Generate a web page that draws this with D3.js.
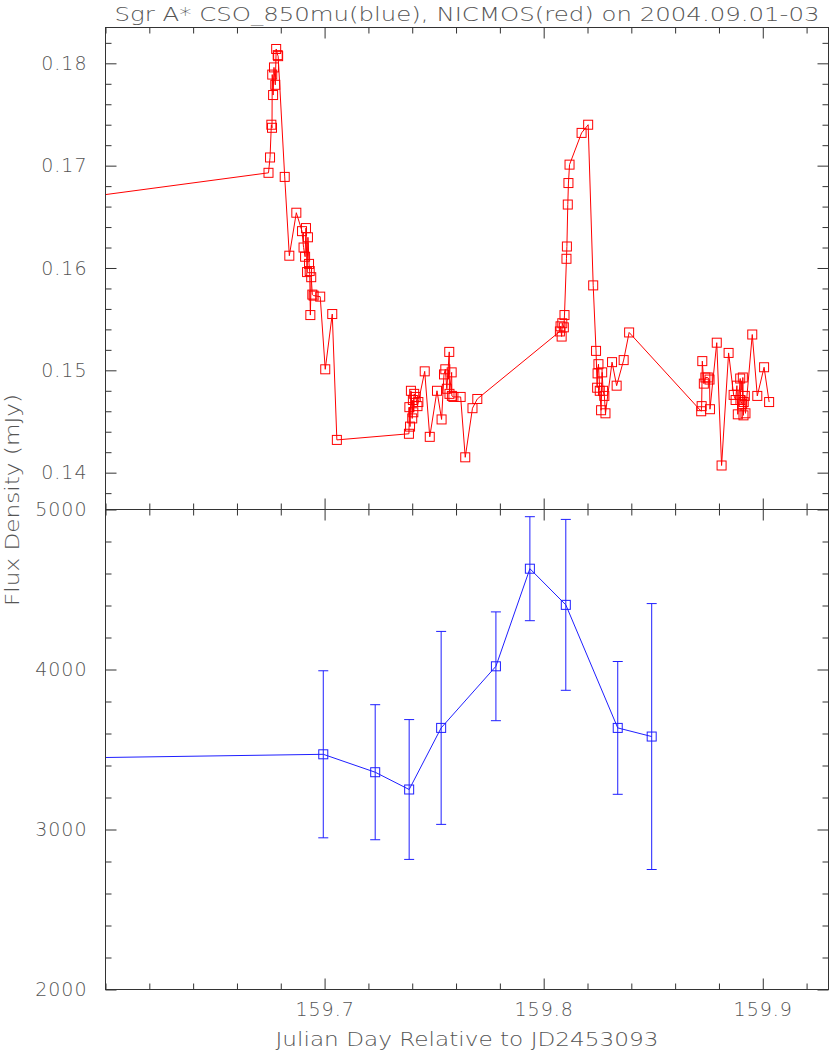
<!DOCTYPE html>
<html><head><meta charset="utf-8">
<script src="https://cdn.jsdelivr.net/npm/d3@7"></script>
<style>
body{margin:0;background:#fff}
svg{display:block}
text{font-family:"DejaVu Sans",sans-serif;fill:#555;font-weight:200}
</style>
</head><body>
<svg id="c" width="830" height="1053"></svg>
<script>
// ---- data ----
const titleText = "Sgr A* CSO_850mu(blue), NICMOS(red) on 2004.09.01-03";
const xLabelText = "Julian Day Relative to JD2453093";
const yLabelText = "Flux Density (mJy)";

const nirTime = [159.58,
 159.6744,159.6751,159.6757,159.6760,159.6761,159.6765,159.6769,159.6775,159.6779,159.6786,
 159.6788,159.6818,159.6839,159.6871,159.6897,159.6904,159.6911,159.6915,159.6920,159.6924,
 159.6929,159.6932,159.6935,159.6939,159.6944,159.6950,159.6980,159.7003,159.7035,159.7056,
 159.7385,159.7387,159.7390,159.7394,159.7400,159.7403,159.7405,159.7409,159.7416,159.7424,
 159.7428,159.7457,159.7480,159.7513,159.7534,159.7545,159.7551,159.7558,159.7569,159.7570,
 159.7580,159.7581,159.7588,159.7621,159.7642,159.7675,159.7697,159.8074,159.8077,159.8082,
 159.8085,159.8092,159.8095,159.8104,159.8106,159.8110,159.8113,159.8118,159.8173,159.8203,
 159.8226,159.8239,159.8244,159.8246,159.8250,159.8256,159.8262,159.8267,159.8271,159.8277,
 159.8282,159.8312,159.8333,159.8365,159.8390,159.8719,159.8721,159.8724,159.8731,159.8738,
 159.8749,159.8757,159.8759,159.8790,159.8812,159.8844,159.8867,159.8876,159.8882,159.8886,
 159.8897,159.8898,159.8906,159.8909,159.8912,159.8913,159.8918,159.8921,159.8952,159.8975,
 159.9006,159.9029];
const nirFlux = [0.1666,
 0.1693,0.1708,0.1740,0.1737,0.1789,0.1769,0.1796,0.1779,0.1814,0.1808,
 0.1807,0.1689,0.1612,0.1654,0.1636,0.1620,0.1611,0.1639,0.1596,0.1630,
 0.1604,0.1597,0.1554,0.1591,0.1574,0.1573,0.1572,0.1501,0.1555,0.1432,
 0.1438,0.1464,0.1445,0.1480,0.1453,0.1471,0.1459,0.1477,0.1474,0.1465,
 0.1469,0.1499,0.1435,0.1480,0.1452,0.1496,0.1501,0.1482,0.1518,0.1477,
 0.1498,0.1475,0.1474,0.1474,0.1415,0.1463,0.1472,0.1538,0.1543,0.1533,
 0.1546,0.1542,0.1554,0.1609,0.1621,0.1662,0.1683,0.1701,0.1732,0.1740,
 0.1583,0.1519,0.1483,0.1497,0.1506,0.1480,0.1461,0.1498,0.1480,0.1475,
 0.1458,0.1508,0.1485,0.1510,0.1537,0.1460,0.1465,0.1509,0.1487,0.1493,
 0.1493,0.1491,0.1462,0.1527,0.1407,0.1517,0.1476,0.1471,0.1485,0.1457,
 0.1492,0.1471,0.1467,0.1493,0.1456,0.1469,0.1475,0.1458,0.1535,0.1475,
 0.1503,0.1469];

const subTime = [159.58,159.6994,159.7231,159.7386,159.7532,159.7782,159.7937,159.8101,159.8338,159.8493];
const subFlux = [3446,3470,3358,3250,3635,4020,4630,4404,3635,3581];
const subErr  = [null,522,422,437,603,340,325,534,415,831];

const xMajorTicks = [159.7,159.8,159.9];
const nirMajorTicks = [0.14,0.15,0.16,0.17,0.18];
const subMajorTicks = [2000,3000,4000,5000];

// ---- layout ----
const L = 105.5, R = 828.5, T = 27.5, M = 509.5, B = 989.5;
const svg = d3.select("#c");

const x = d3.scaleLinear().domain([159.6,159.93]).range([L,R]);
const yN = d3.scaleLinear().domain([0.1364,0.1835]).range([M,T]);
const yS = d3.scaleLinear().domain([2000,5000]).range([B,M]);

const xMinor = d3.range(159.60,159.935,0.02).map(v=>+v.toFixed(2)).filter(v=>!xMajorTicks.some(m=>Math.abs(m-v)<1e-6));
const nMinor = d3.range(0.136,0.184,0.002).map(v=>+v.toFixed(3)).filter(v=>v>=0.1364 && v<=0.1835 && !nirMajorTicks.some(m=>Math.abs(m-v)<1e-6));
const sMinor = d3.range(2000,5001,200).filter(v=>!subMajorTicks.includes(v));

const tickCol = "#333";
function clean(g){
  g.select(".domain").remove();
  g.selectAll("line").attr("stroke",tickCol).attr("stroke-width",1);
  return g;
}
function addTicks(y, top, bottom, yMaj, yMin){
  const defs = [
    [d3.axisRight(y), L, 0, yMaj, yMin],
    [d3.axisLeft(y), R, 0, yMaj, yMin],
    [d3.axisBottom(x), 0, top, xMajorTicks, xMinor],
    [d3.axisTop(x), 0, bottom, xMajorTicks, xMinor]
  ];
  defs.forEach(([ax, tx, ty, maj, min])=>{
    svg.append("g").attr("transform",`translate(${tx},${ty})`)
      .call(ax.tickValues(maj).tickSize(11).tickFormat("")).call(clean);
    svg.append("g").attr("transform",`translate(${tx},${ty})`)
      .call(ax.tickValues(min).tickSize(6).tickFormat("")).call(clean);
  });
  svg.append("rect").attr("x",L).attr("y",top).attr("width",R-L).attr("height",bottom-top)
    .attr("fill","none").attr("stroke",tickCol).attr("stroke-width",1);
}

// clip paths
const defs = svg.append("defs");
defs.append("clipPath").attr("id","clipTop").append("rect").attr("x",L).attr("y",T).attr("width",R-L).attr("height",M-T);
defs.append("clipPath").attr("id","clipBot").append("rect").attr("x",L).attr("y",M).attr("width",R-L).attr("height",B-M);

// ---- top panel: NICMOS (red) ----
const red = "#ff0000";
const nirData = nirTime.map((t,i)=>({t, v:nirFlux[i]}));
const gTop = svg.append("g").attr("clip-path","url(#clipTop)");
gTop.append("path").datum(nirData)
  .attr("d", d3.line().x(d=>x(d.t)).y(d=>yN(d.v)))
  .attr("fill","none").attr("stroke",red).attr("stroke-width",1);
const sq = 9;
gTop.selectAll("rect.pt").data(nirData).join("rect").attr("class","pt")
  .attr("x",d=>x(d.t)-sq/2).attr("y",d=>yN(d.v)-sq/2)
  .attr("width",sq).attr("height",sq)
  .attr("fill","none").attr("stroke",red).attr("stroke-width",1);

// ---- bottom panel: CSO (blue) ----
const blue = "#1f1fff";
const subData = subTime.map((t,i)=>({t, v:subFlux[i], e:subErr[i]}));
const gBot = svg.append("g").attr("clip-path","url(#clipBot)");
gBot.append("path").datum(subData)
  .attr("d", d3.line().x(d=>x(d.t)).y(d=>yS(d.v)))
  .attr("fill","none").attr("stroke",blue).attr("stroke-width",1);
const eb = subData.filter(d=>d.e!=null);
const capW = 5;
gBot.selectAll("line.eb").data(eb).join("line").attr("class","eb")
  .attr("x1",d=>x(d.t)).attr("x2",d=>x(d.t))
  .attr("y1",d=>yS(d.v-d.e)).attr("y2",d=>yS(d.v+d.e))
  .attr("stroke",blue).attr("stroke-width",1);
["hi","lo"].forEach(k=>{
  gBot.selectAll("line.cap"+k).data(eb).join("line").attr("class","cap"+k)
    .attr("x1",d=>x(d.t)-capW).attr("x2",d=>x(d.t)+capW)
    .attr("y1",d=>yS(k==="hi"?d.v+d.e:d.v-d.e)).attr("y2",d=>yS(k==="hi"?d.v+d.e:d.v-d.e))
    .attr("stroke",blue).attr("stroke-width",1);
});
gBot.selectAll("rect.pt").data(subData).join("rect").attr("class","pt")
  .attr("x",d=>x(d.t)-sq/2).attr("y",d=>yS(d.v)-sq/2)
  .attr("width",sq).attr("height",sq)
  .attr("fill","none").attr("stroke",blue).attr("stroke-width",1);

// ---- frames & ticks ----
addTicks(yN, T, M, nirMajorTicks, nMinor);
addTicks(yS, M, B, subMajorTicks, sMinor);

// ---- tick labels ----
function styleLabels(g){
  g.select(".domain").remove();
  g.attr("font-size",null).attr("font-family",null);
  g.selectAll("text").style("font-size","19px").style("fill","#555").attr("letter-spacing","1");
  return g;
}
svg.append("g").attr("transform",`translate(${L},0)`)
  .call(d3.axisLeft(yN).tickValues(nirMajorTicks).tickSize(0).tickPadding(18).tickFormat(d3.format(".2f")))
  .call(styleLabels);
svg.append("g").attr("transform",`translate(${L},0)`)
  .call(d3.axisLeft(yS).tickValues(subMajorTicks).tickSize(0).tickPadding(18).tickFormat(d3.format("d")))
  .call(styleLabels);
svg.append("g").attr("transform",`translate(0,${B})`)
  .call(d3.axisBottom(x).tickValues(xMajorTicks).tickSize(0).tickPadding(13).tickFormat(d3.format(".1f")))
  .call(styleLabels);

// ---- titles ----
svg.append("text").attr("x",(L+R)/2).attr("y",21).attr("text-anchor","middle")
  .style("font-size","20px").attr("textLength",705).attr("lengthAdjust","spacingAndGlyphs")
  .text(titleText);
svg.append("text").attr("x",(L+R)/2).attr("y",1046).attr("text-anchor","middle")
  .style("font-size","20px").attr("textLength",383).attr("lengthAdjust","spacingAndGlyphs")
  .text(xLabelText);
svg.append("text").attr("transform","translate(19,500) rotate(-90)").attr("text-anchor","middle")
  .style("font-size","20px").attr("textLength",212).attr("lengthAdjust","spacingAndGlyphs")
  .text(yLabelText);
</script>
</body></html>
